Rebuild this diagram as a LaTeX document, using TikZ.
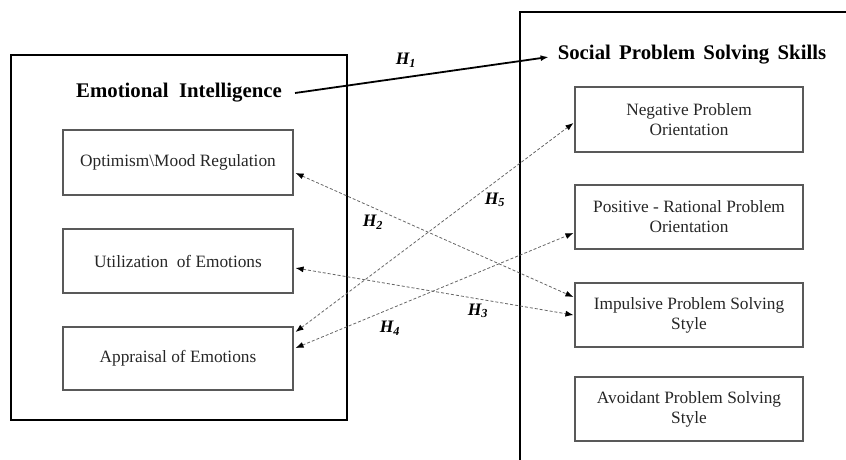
\documentclass[tikz,border=0pt]{standalone}
\usepackage{fontspec}
\setmainfont{Liberation Serif}
\usetikzlibrary{arrows.meta,calc}
\begin{document}
\begin{tikzpicture}[x=1pt,y=-1pt,
  outer/.style={draw=black,line width=1.3pt,inner sep=0pt},
  sub/.style={draw=black!65,line width=1.1pt,minimum width=230pt,minimum height=64pt,inner sep=0pt,align=center,font=\fontsize{17.3}{20}\selectfont,text=black!85},
  rsub/.style={sub,minimum width=228pt},
  title/.style={font=\fontsize{20.8}{24}\selectfont\bfseries,inner sep=0pt},
  hyp/.style={draw=black!60,dash pattern=on 3pt off 2pt,line width=0.8pt,{Latex[length=8pt,width=6pt,black]}-{Latex[length=8pt,width=6pt,black]}},
  mainarrow/.style={draw=black,line width=1.8pt,-{Latex[length=8pt,width=6pt]}},
  hlab/.style={font=\fontsize{17.5}{20}\selectfont\bfseries\itshape,inner sep=0pt}
]
\clip (0,0) rectangle (846,459);
\useasboundingbox (0,0) rectangle (846,459);
% outer boxes
\node[outer,minimum width=336pt,minimum height=365pt] (eibox) at (179,237.5) {};
\node[outer,minimum width=340pt,minimum height=470pt] (spsbox) at (690,247) {};
% titles
\node[title] (ei) at (179,93) {Emotional\ \ Intelligence};
\node[title] (sps) at (692,55) {Social\hspace{0.4em}Problem\hspace{0.4em}Solving\hspace{0.4em}Skills};
% left sub boxes
\node[sub,minimum height=65pt] (opt) at (178,162.5) {Optimism\textbackslash Mood Regulation};
\node[sub] (util) at (178,261) {Utilization\ \ of Emotions};
\node[sub,minimum height=63pt] (appr) at (178,358.5) {Appraisal\ of Emotions};
% right sub boxes
\node[rsub,minimum height=65pt] (neg) at (689,119.5) {Negative Problem\\Orientation};
\node[rsub] (pos) at (689,217) {Positive - Rational Problem\\Orientation};
\node[rsub] (imp) at (689,315) {Impulsive Problem Solving\\Style};
\node[rsub] (avo) at (689,409) {Avoidant Problem Solving\\Style};
% H1
\draw[mainarrow] ([xshift=13pt]ei.east) -- ([xshift=-9pt,yshift=-2pt]sps.west);
\node[hlab] (h1) at (406,60) {H\textsubscript{1}};
% dashed hypotheses
\draw[hyp] ([xshift=2pt,yshift=-10.5pt]opt.east) -- ([xshift=-1pt,yshift=18pt]imp.west);
\draw[hyp] ([xshift=2pt,yshift=-7pt]util.east) -- ([xshift=-1pt]imp.west);
\draw[hyp] ([xshift=2pt,yshift=10.5pt]appr.east) -- ([xshift=-1pt,yshift=-16pt]pos.west);
\draw[hyp] ([xshift=2pt,yshift=26.5pt]appr.east) -- ([xshift=-1pt,yshift=-3.5pt]neg.west);
\node[hlab] (h2) at (373,222) {H\textsubscript{2}};
\node[hlab] (h3) at (478,311) {H\textsubscript{3}};
\node[hlab] (h4) at (390,328) {H\textsubscript{4}};
\node[hlab] (h5) at (495,200) {H\textsubscript{5}};
\end{tikzpicture}
\end{document}
